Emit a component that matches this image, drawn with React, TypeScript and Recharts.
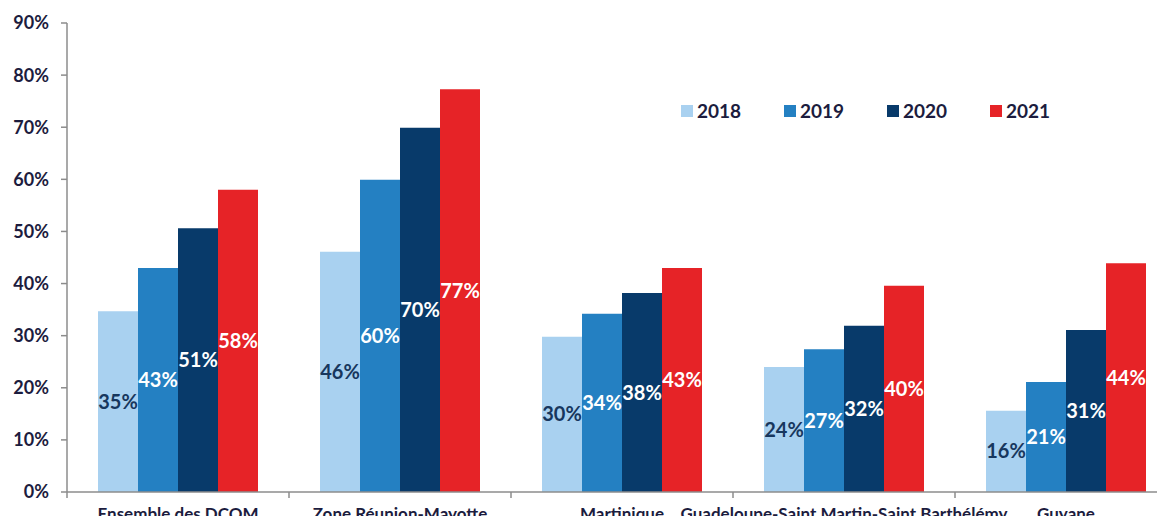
import React from 'react';
import { BarChart, Bar, XAxis, YAxis, Legend, LabelList } from 'recharts';

const categories = [
  'Ensemble des DCOM',
  'Zone Réunion-Mayotte',
  'Martinique',
  'Guadeloupe-Saint Martin-Saint Barthélémy',
  'Guyane',
];
const years = ['2018', '2019', '2020', '2021'];
const v2018 = [34.7, 46.1, 29.8, 24.0, 15.6];
const v2019 = [43.0, 59.9, 34.2, 27.4, 21.1];
const v2020 = [50.6, 69.9, 38.2, 31.9, 31.1];
const v2021 = [58.0, 77.3, 43.0, 39.6, 43.9];
const yTicks = [0, 10, 20, 30, 40, 50, 60, 70, 80, 90];
const title = "Part des accès à très haut débit dans le nombre total d'accès à Internet";

const colors = ['#a9d1f0', '#2480c2', '#083a6a', '#e62327'];
const labelColors = ['#17375e', '#ffffff', '#ffffff', '#ffffff'];
const textColor = '#1c1c3e';
const axisColor = '#8c8c8c';
const FONT = 'Lato, "Open Sans", sans-serif';

const data = categories.map((name, i) => ({
  name,
  y2018: v2018[i],
  y2019: v2019[i],
  y2020: v2020[i],
  y2021: v2021[i],
}));

const series = [
  { key: 'y2018', name: years[0] },
  { key: 'y2019', name: years[1] },
  { key: 'y2020', name: years[2] },
  { key: 'y2021', name: years[3] },
];

const CategoryTick = (props: any) => {
  const { x, y, payload, index } = props;
  const half = payload?.offset ?? 0;
  const isLast = index === categories.length - 1;
  return (
    <g>
      <line x1={x - half} x2={x - half} y1={y} y2={y + 6} stroke={axisColor} strokeWidth={1.5} />
      {isLast && <line x1={x + half} x2={x + half} y1={y} y2={y + 6} stroke={axisColor} strokeWidth={1.5} />}
      <text
        x={x}
        y={y + 28}
        textAnchor="middle"
        fontFamily={FONT}
        fontWeight={700}
        fontSize={17}
        fill={textColor}
      >
        {payload.value}
      </text>
    </g>
  );
};

const LegendContent = () => (
  <div style={{ display: 'flex', fontFamily: FONT, fontWeight: 700, fontSize: 19, color: textColor }}>
    {years.map((y, i) => (
      <div key={y} style={{ display: 'flex', alignItems: 'center', width: 103 }}>
        <span style={{ display: 'inline-block', width: 12, height: 12, background: colors[i], marginRight: 4 }} />
        <span>{y}</span>
      </div>
    ))}
  </div>
);

export default function App() {
  return (
    <div style={{ position: 'relative', width: 1165, height: 524, overflow: 'hidden', margin: -8, background: '#fff' }}>
      <BarChart
        width={1180}
        height={524}
        data={data}
        margin={{ top: 23, right: 3, bottom: 0, left: 0 }}
        barCategoryGap={31}
        barGap={0}
      >
        <XAxis
          dataKey="name"
          height={32}
          axisLine={{ stroke: axisColor, strokeWidth: 1.5 }}
          tickLine={false}
          tickSize={0}
          tickMargin={0}
          interval={0}
          tick={<CategoryTick />}
        />
        <YAxis
          width={67}
          domain={[0, 90]}
          ticks={yTicks}
          tickFormatter={(v: number) => `${v}%`}
          axisLine={{ stroke: axisColor, strokeWidth: 1.5 }}
          tickLine={{ stroke: axisColor, strokeWidth: 1.5 }}
          tickSize={6}
          tickMargin={12}
          tick={{ fontFamily: FONT, fontWeight: 700, fontSize: 18, fill: textColor }}
        />
        <Legend
          layout="horizontal"
          verticalAlign="middle"
          align="center"
          content={<LegendContent />}
          wrapperStyle={{ position: 'absolute', top: 99, left: 681, width: 420, height: 22 }}
        />
        {series.map((s, i) => (
          <Bar key={s.key} dataKey={s.key} name={s.name} fill={colors[i]} isAnimationActive={false}>
            <LabelList
              dataKey={s.key}
              position="center"
              formatter={(v: number) => `${Math.round(v)}%`}
              style={{ fontFamily: FONT, fontWeight: 700, fontSize: 20, fill: labelColors[i] }}
            />
          </Bar>
        ))}
      </BarChart>
      <div
        style={{
          position: 'absolute',
          top: -21,
          left: 0,
          width: 1280,
          zIndex: 5,
          textAlign: 'center',
          fontFamily: FONT,
          fontWeight: 700,
          fontSize: 25,
          lineHeight: '30px',
          color: '#1f1f4f',
          whiteSpace: 'nowrap',
        }}
      >
        {title}
      </div>
    </div>
  );
}
